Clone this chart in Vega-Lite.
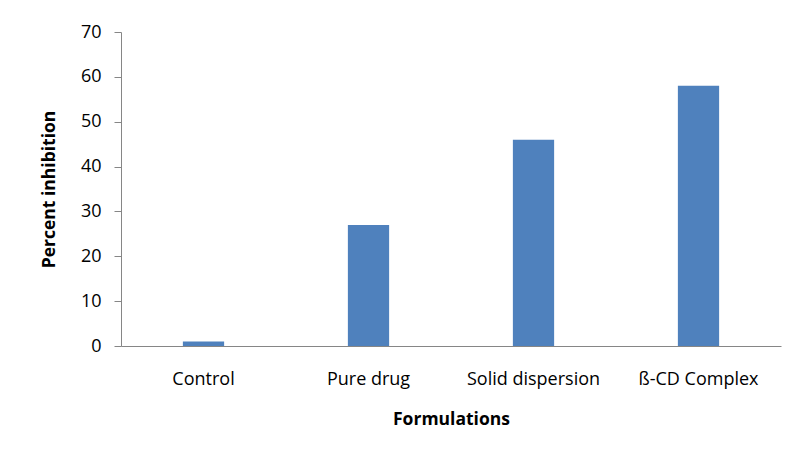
{
  "$schema": "https://vega.github.io/schema/vega-lite/v6.json",
  "autosize": "none",
  "width": 660,
  "height": 314,
  "padding": {"left": 121, "top": 32, "right": 9, "bottom": 106},
  "background": "white",
  "config": {
    "view": {"stroke": null},
    "font": "Open Sans",
    "axis": {"grid": false, "domainColor": "#868686", "tickColor": "#868686", "labelColor": "#000000", "titleColor": "#000000"}
  },
  "data": {"values": [
    {"formulation": "Control", "inhibition": 1},
    {"formulation": "Pure drug", "inhibition": 27},
    {"formulation": "Solid dispersion", "inhibition": 46},
    {"formulation": "ß-CD Complex", "inhibition": 58}
  ]},
  "mark": {"type": "bar", "color": "#4F81BD"},
  "encoding": {
    "x": {
      "field": "formulation", "type": "nominal", "sort": null,
      "scale": {"paddingInner": 0.75, "paddingOuter": 0.375},
      "axis": {"title": "Formulations", "labelAngle": 0, "ticks": false, "labelPadding": 24, "labelFontSize": 18, "titleFontSize": 17.5, "titleFontWeight": "bold", "titlePadding": 22}
    },
    "y": {
      "field": "inhibition", "type": "quantitative",
      "scale": {"domain": [0, 70]},
      "axis": {"title": "Percent inhibition", "values": [0,10,20,30,40,50,60,70], "tickSize": 7, "labelPadding": 13, "labelFontSize": 18, "titleFontSize": 17.5, "titleFontWeight": "bold", "titlePadding": 22}
    }
  }
}
